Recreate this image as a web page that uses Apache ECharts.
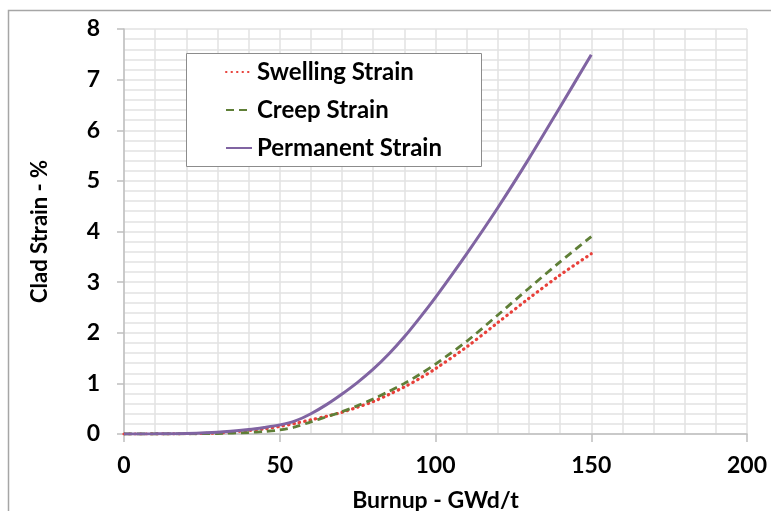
<!DOCTYPE html>
<html>
<head>
<meta charset="utf-8">
<style>
  html, body { margin: 0; padding: 0; background: #ffffff; }
  #chart { width: 771px; height: 511px; }
</style>
<script src="https://cdn.jsdelivr.net/npm/echarts@6/dist/echarts.min.js"></script>
</head>
<body>
<div id="chart"></div>
<script>
// Burnup (GWd/t) sample points
const burnup = [0, 10, 20, 30, 40, 45, 50, 55, 60, 65, 70, 75, 80, 85, 90, 95, 100, 110, 120, 130, 140, 150];

// Clad strain (%) for each component
const swellingStrain = [0, 0.001, 0.006, 0.02, 0.07, 0.10, 0.15, 0.21, 0.28, 0.35, 0.43, 0.53, 0.64, 0.78, 0.93, 1.10, 1.29, 1.72, 2.20, 2.68, 3.14, 3.56];
const creepStrain = [0, 0, 0.003, 0.01, 0.03, 0.05, 0.08, 0.14, 0.24, 0.34, 0.44, 0.56, 0.69, 0.84, 1.00, 1.18, 1.38, 1.83, 2.35, 2.88, 3.40, 3.90];
const permanentStrain = [0, 0.003, 0.012, 0.035, 0.09, 0.13, 0.18, 0.26, 0.40, 0.58, 0.79, 1.02, 1.28, 1.58, 1.92, 2.30, 2.70, 3.56, 4.47, 5.44, 6.46, 7.49];

const seriesNames = ['Swelling Strain', 'Creep Strain', 'Permanent Strain'];

const FONT = 'Lato';
const gridColor = '#e2e2e2';
const axisColor = '#bfbfbf';

function pairs(ys) {
  return burnup.map((x, i) => [x, ys[i]]);
}

const chart = echarts.init(document.getElementById('chart'), null, { renderer: 'canvas' });

chart.setOption({
  backgroundColor: '#ffffff',
  animation: false,
  textStyle: { fontFamily: FONT },
  grid: { left: 124, right: 24, top: 29, bottom: 77, containLabel: false, outerBoundsMode: 'none' },
  graphic: [
    {
      // outer chart frame
      type: 'polyline',
      shape: { points: [[8.5, 520], [8.5, 10.5], [780, 10.5]] },
      style: { stroke: '#a6a6a6', lineWidth: 1.5, fill: null },
      z: 0
    },
    {
      // legend frame
      type: 'rect',
      shape: { x: 186.5, y: 53.5, width: 295, height: 113 },
      style: { fill: '#ffffff', stroke: '#8c8c8c', lineWidth: 1 },
      z: 5
    }
  ],
  legend: {
    orient: 'vertical',
    left: 225,
    top: 60,
    padding: 0,
    itemGap: 14,
    itemWidth: 26,
    itemHeight: 14,
    z: 10,
    itemStyle: { opacity: 0 },
    data: seriesNames,
    textStyle: { fontFamily: FONT, fontWeight: 'bold', fontSize: 24, color: '#000000', padding: [0, 0, 0, 0] }
  },
  xAxis: {
    type: 'value',
    min: 0,
    max: 200,
    interval: 50,
    name: 'Burnup - GWd/t',
    nameLocation: 'middle',
    nameGap: 55,
    nameTextStyle: { fontFamily: FONT, fontWeight: 'bold', fontSize: 23, color: '#000000' },
    axisLine: { show: true, onZero: false, lineStyle: { color: axisColor, width: 1.5 } },
    axisTick: { show: true, length: 8, lineStyle: { color: axisColor, width: 1.5 } },
    axisLabel: { margin: 20, fontFamily: FONT, fontWeight: 'bold', fontSize: 23, color: '#000000' },
    splitLine: { show: true, lineStyle: { color: gridColor, width: 1.5 } },
    minorTick: { show: false, splitNumber: 5 },
    minorSplitLine: { show: true, lineStyle: { color: gridColor, width: 1.5 } }
  },
  yAxis: {
    type: 'value',
    min: 0,
    max: 8,
    interval: 1,
    name: 'Clad Strain - %',
    nameLocation: 'middle',
    nameGap: 73,
    nameTextStyle: { fontFamily: FONT, fontWeight: 'bold', fontSize: 22, color: '#000000' },
    axisLine: { show: true, lineStyle: { color: axisColor, width: 1.5 } },
    axisTick: { show: true, length: 7, lineStyle: { color: axisColor, width: 1.5 } },
    axisLabel: { margin: 24, fontFamily: FONT, fontWeight: 'bold', fontSize: 23, color: '#000000' },
    splitLine: { show: true, lineStyle: { color: gridColor, width: 1.5 } },
    minorTick: { show: false, splitNumber: 5 },
    minorSplitLine: { show: true, lineStyle: { color: gridColor, width: 1.5 } }
  },
  series: [
    {
      name: seriesNames[0],
      type: 'line',
      data: pairs(swellingStrain),
      smooth: 0.3,
      showSymbol: false,
      symbol: 'none',
      z: 3,
      color: '#e8403a',
      lineStyle: { color: '#e8403a', width: 3.2, type: [0.5, 5], cap: 'round' }
    },
    {
      name: seriesNames[1],
      type: 'line',
      data: pairs(creepStrain),
      smooth: 0.3,
      showSymbol: false,
      symbol: 'none',
      z: 3,
      color: '#5f7f37',
      lineStyle: { color: '#5f7f37', width: 2.8, type: [8, 5] }
    },
    {
      name: seriesNames[2],
      type: 'line',
      data: pairs(permanentStrain),
      smooth: 0.3,
      showSymbol: false,
      symbol: 'none',
      z: 4,
      color: '#8064a2',
      lineStyle: { color: '#8064a2', width: 3 }
    }
  ]
});
</script>
</body>
</html>
